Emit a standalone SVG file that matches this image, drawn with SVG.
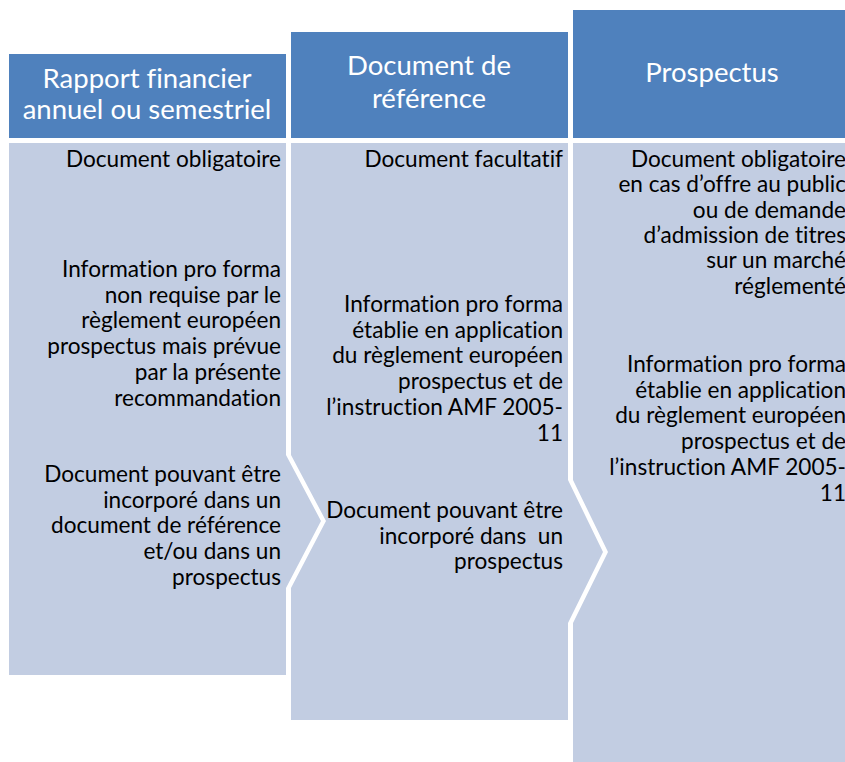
<svg xmlns="http://www.w3.org/2000/svg" width="845" height="762" viewBox="0 0 845 762">
<style>
.hdr{fill:#4F81BD}
.body{fill:#C2CDE2}
.ht{font-family:Lato,"Liberation Sans",sans-serif;font-size:27.5px;fill:#FFFFFF;text-anchor:middle;font-variant-ligatures:none}
.bt{font-family:Lato,"Liberation Sans",sans-serif;font-size:22.6px;fill:#000000;text-anchor:end;font-variant-ligatures:none}
.pre{white-space:pre}
</style>
<rect width="845" height="762" fill="#FFFFFF"/>
<g id="col1">
<rect class="hdr" x="9" y="54" width="277" height="84"/>
<text class="ht"><tspan x="147" y="88">Rapport financier</tspan><tspan x="147" y="119">annuel ou semestriel</tspan></text>
<polygon class="body" points="9,143 286,143 286,455 321,521 286,588 286,675 9,675"/>
<text class="bt"><tspan x="281" y="167">Document obligatoire</tspan><tspan x="281" y="277">Information pro forma</tspan><tspan x="281" y="302.7">non requise par le</tspan><tspan x="281" y="328.4">règlement européen</tspan><tspan x="281" y="354.1">prospectus mais prévue</tspan><tspan x="281" y="379.8">par la présente</tspan><tspan x="281" y="405.5">recommandation</tspan><tspan x="281" y="482">Document pouvant être</tspan><tspan x="281" y="507.7">incorporé dans un</tspan><tspan x="281" y="533.4">document de référence</tspan><tspan x="281" y="559.1">et/ou dans un</tspan><tspan x="281" y="584.8">prospectus</tspan></text>
</g>
<g id="col2">
<rect class="hdr" x="291" y="32" width="277" height="106"/>
<text class="ht"><tspan x="429" y="75">Document de</tspan><tspan x="429" y="108">référence</tspan></text>
<polygon class="body" points="291,143 568,143 568,480 603,552 568,623 568,720 291,720 291,588 326,521 291,455"/>
<text class="bt"><tspan x="563" y="167">Document facultatif</tspan><tspan x="563" y="312">Information pro forma</tspan><tspan x="563" y="337.7">établie en application</tspan><tspan x="563" y="363.4">du règlement européen</tspan><tspan x="563" y="389.1">prospectus et de</tspan><tspan x="563" y="414.8">l’instruction AMF 2005-</tspan><tspan x="563" y="440.5">11</tspan><tspan x="563" y="518">Document pouvant être</tspan><tspan class="pre" x="563" y="543.7">incorporé dans  un</tspan><tspan x="563" y="569.4">prospectus</tspan></text>
</g>
<g id="col3">
<rect class="hdr" x="573" y="10" width="278" height="128"/>
<text class="ht"><tspan x="712" y="82">Prospectus</tspan></text>
<polygon class="body" points="573,143 851,143 851,762 573,762 573,623 608,552 573,480"/>
<text class="bt"><tspan x="846" y="167">Document obligatoire</tspan><tspan x="846" y="192.3">en cas d’offre au public</tspan><tspan x="846" y="217.6">ou de demande</tspan><tspan x="846" y="242.9">d’admission de titres</tspan><tspan x="846" y="268.2">sur un marché</tspan><tspan x="846" y="293.5">réglementé</tspan><tspan x="846" y="372">Information pro forma</tspan><tspan x="846" y="397.7">établie en application</tspan><tspan x="846" y="423.4">du règlement européen</tspan><tspan x="846" y="449.1">prospectus et de</tspan><tspan x="846" y="474.8">l’instruction AMF 2005-</tspan><tspan x="846" y="500.5">11</tspan></text>
</g>
<g id="connectors"></g>
</svg>
